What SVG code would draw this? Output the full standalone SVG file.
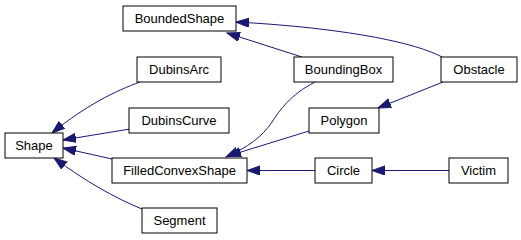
<svg xmlns="http://www.w3.org/2000/svg" width="521" height="240" viewBox="0 0 521 240">
  <style>
    .node rect { fill: #ffffff; stroke: #000000; stroke-width: 1; }
    .node text { font-family: "Liberation Sans", Arial, sans-serif; font-size: 13px; fill: #000000; text-anchor: middle; }
    .edge { fill: none; stroke: #191970; stroke-width: 1; marker-end: url(#arrow); }
  </style>
  <defs>
    <marker id="arrow" markerUnits="userSpaceOnUse" markerWidth="14" markerHeight="10" refX="13" refY="4.6" orient="auto">
      <path d="M0,0 L13,4.6 L0,9.2 z" fill="#191970" stroke="#191970" stroke-width="1"/>
    </marker>
  </defs>
  <rect width="521" height="240" fill="#ffffff"/>

  <!-- inheritance connectors: child to base class -->
  <g id="edges">
    <path class="edge" d="M449,170.5 L372,170.5"/>
    <path class="edge" d="M315,170.5 L247,170.5"/>
    <path class="edge" d="M309,131 L228,156"/>
    <path class="edge" d="M315,82 C290,95 280,110 272,122 C262,137 248,147 226,157"/>
    <path class="edge" d="M443,82 L378,108"/>
    <path class="edge" d="M442,57 C410,40 330,27 236,22"/>
    <path class="edge" d="M302,57 L227,33"/>
    <path class="edge" d="M140,82 C115,91 85,106 52,133"/>
    <path class="edge" d="M130,129 L63,140"/>
    <path class="edge" d="M112,159 L63,148"/>
    <path class="edge" d="M142,209 C115,198 85,181 54,158"/>
  </g>

  <g id="BoundedShape" class="node"><rect x="123" y="6" width="113" height="25"/><text x="179.5" y="23">BoundedShape</text></g>
  <g id="DubinsArc" class="node"><rect x="137" y="57" width="84" height="25"/><text x="179" y="74">DubinsArc</text></g>
  <g id="BoundingBox" class="node"><rect x="294" y="57" width="99" height="25"/><text x="343.5" y="74">BoundingBox</text></g>
  <g id="Obstacle" class="node"><rect x="441" y="57" width="76" height="25"/><text x="479" y="74">Obstacle</text></g>
  <g id="DubinsCurve" class="node"><rect x="129" y="108" width="100" height="25"/><text x="179" y="125">DubinsCurve</text></g>
  <g id="Polygon" class="node"><rect x="309" y="108" width="70" height="25"/><text x="344" y="125">Polygon</text></g>
  <g id="Shape" class="node"><rect x="5" y="133" width="58" height="25"/><text x="34" y="150">Shape</text></g>
  <g id="FilledConvexShape" class="node"><rect x="112" y="158" width="135" height="25"/><text x="179.5" y="175">FilledConvexShape</text></g>
  <g id="Circle" class="node"><rect x="315" y="158" width="57" height="25"/><text x="343.5" y="175">Circle</text></g>
  <g id="Victim" class="node"><rect x="449" y="158" width="59" height="25"/><text x="478.5" y="175">Victim</text></g>
  <g id="Segment" class="node"><rect x="142" y="208" width="75" height="25"/><text x="179.5" y="225">Segment</text></g>
</svg>
